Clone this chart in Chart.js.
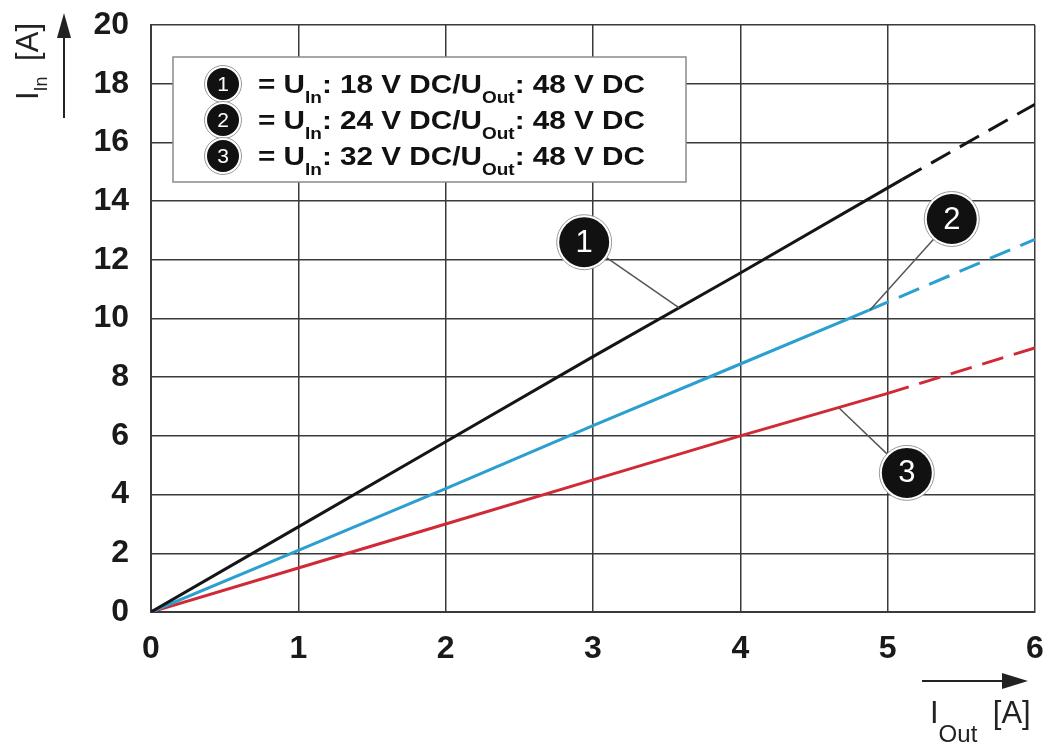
<!DOCTYPE html>
<html lang="de">
<head>
<meta charset="utf-8"/>
<title>I_In vs I_Out</title>
<script src="https://cdn.jsdelivr.net/npm/chart.js"></script>
<style>
  body { margin: 0; background: #fff; }
  canvas { display: block; }
</style>
</head>
<body>
<canvas id="chart" width="1048" height="742"></canvas>
<script>
// values (I_Out in A -> I_In in A)
const xBlack = [0, 1, 2, 3, 4, 5, 5.1, 6];
const yBlack = [0, 2.9, 5.8, 8.7, 11.55, 14.45, 14.74, 17.3];
const xBlue = [0, 1, 2, 3, 4, 4.87, 6];
const yBlue = [0, 2.1, 4.2, 6.35, 8.45, 10.28, 12.7];
const xRed = [0, 1, 2, 3, 4, 5, 6];
const yRed = [0, 1.5, 3.0, 4.5, 6.0, 7.45, 9.0];
// where the solid part ends and the dashed part starts
const solidEnd = [5.1, 4.87, 5.0];

const legendRows = [
  ['1', '18', '48'],
  ['2', '24', '48'],
  ['3', '32', '48']
];
// callouts: number, circle (x,y), leader end on curve (x,y)
const callouts = [
  ['1', 2.94, 12.6, 3.585, 10.36],
  ['2', 5.435, 13.39, 4.88, 10.29],
  ['3', 5.13, 4.74, 4.67, 6.95]
];

const FONT = '"Liberation Sans", Arial, sans-serif';
const GRID = '#3a3a3a';

function pts(xs, ys) {
  return xs.map((x, i) => ({ x: x, y: ys[i] }));
}

function dataset(xs, ys, color, cut) {
  return {
    data: pts(xs, ys),
    borderColor: color,
    borderWidth: 3,
    pointRadius: 0,
    tension: 0,
    segment: {
      borderDash: c => c.p0.parsed.x >= cut - 1e-6 ? [22, 11] : undefined
    }
  };
}

// draws text with subscripts, parts = [[text, isSub], ...]
function drawParts(ctx, parts, x, y, big, small, dy, measureOnly) {
  let w = 0;
  parts.forEach(p => {
    ctx.font = p[1] ? small : big;
    if (!measureOnly) ctx.fillText(p[0], x + w, p[1] ? y + dy : y);
    w += ctx.measureText(p[0]).width;
  });
  return w;
}

function badge(ctx, cx, cy, r, label, size) {
  ctx.beginPath();
  ctx.arc(cx, cy, r + 2.5, 0, Math.PI * 2);
  ctx.fillStyle = '#fff';
  ctx.fill();
  ctx.lineWidth = 1;
  ctx.strokeStyle = '#999';
  ctx.stroke();
  ctx.beginPath();
  ctx.arc(cx, cy, r, 0, Math.PI * 2);
  ctx.fillStyle = '#111';
  ctx.fill();
  ctx.fillStyle = '#fff';
  ctx.font = size + 'px ' + FONT;
  ctx.textAlign = 'center';
  ctx.textBaseline = 'middle';
  ctx.fillText(label, cx, cy + 1);
  ctx.textAlign = 'left';
  ctx.textBaseline = 'alphabetic';
}

const extras = {
  id: 'extras',
  afterDraw(chart) {
    const ctx = chart.ctx;
    const sx = chart.scales.x, sy = chart.scales.y;
    ctx.save();

    // legend box
    ctx.fillStyle = '#fff';
    ctx.fillRect(173, 57, 513, 125);
    ctx.strokeStyle = '#8a8a8a';
    ctx.lineWidth = 1.5;
    ctx.strokeRect(173, 57, 513, 125);

    const big = 'bold 25px ' + FONT;
    const small = 'bold 16px ' + FONT;
    legendRows.forEach((row, i) => {
      const base = 93 + i * 36;
      badge(ctx, 223, base - 9, 16, row[0], 21);
      const parts = [['= U', false], ['In', true], [': ' + row[1] + ' V DC/U', false],
        ['Out', true], [': ' + row[2] + ' V DC', false]];
      ctx.fillStyle = '#111';
      const w = drawParts(ctx, parts, 0, 0, big, small, 10, true);
      ctx.save();
      ctx.translate(258, base);
      ctx.scale(387 / w, 1);
      drawParts(ctx, parts, 0, 0, big, small, 10, false);
      ctx.restore();
    });

    // callouts
    callouts.forEach(c => {
      const cx = sx.getPixelForValue(c[1]), cy = sy.getPixelForValue(c[2]);
      const ex = sx.getPixelForValue(c[3]), ey = sy.getPixelForValue(c[4]);
      ctx.beginPath();
      ctx.moveTo(cx, cy);
      ctx.lineTo(ex, ey);
      ctx.strokeStyle = '#555';
      ctx.lineWidth = 1.5;
      ctx.stroke();
      badge(ctx, cx, cy, 25, c[0], 31);
    });

    // y axis title + arrow
    ctx.fillStyle = '#222';
    ctx.strokeStyle = '#222';
    ctx.save();
    ctx.translate(38, 100);
    ctx.rotate(-Math.PI / 2);
    drawParts(ctx, [['I', false], ['In', true], ['\u2002[A]', false]], 0, 0,
      '31px ' + FONT, '18px ' + FONT, 9, false);
    ctx.restore();
    ctx.lineWidth = 2;
    ctx.beginPath();
    ctx.moveTo(64, 118);
    ctx.lineTo(64, 30);
    ctx.stroke();
    ctx.beginPath();
    ctx.moveTo(64, 13);
    ctx.lineTo(57, 38);
    ctx.lineTo(71, 38);
    ctx.closePath();
    ctx.fill();

    // x axis title + arrow
    ctx.beginPath();
    ctx.moveTo(922, 681);
    ctx.lineTo(1010, 681);
    ctx.stroke();
    ctx.beginPath();
    ctx.moveTo(1028, 681);
    ctx.lineTo(1002, 673);
    ctx.lineTo(1002, 689);
    ctx.closePath();
    ctx.fill();
    drawParts(ctx, [['I', false], ['Out', true], ['\u2002[A]', false]], 930, 723,
      '31px ' + FONT, '24px ' + FONT, 19, false);

    ctx.restore();
  }
};

const tickFont = { family: FONT, size: 32, weight: 'bold' };

new Chart(document.getElementById('chart').getContext('2d'), {
  type: 'line',
  data: {
    datasets: [
      dataset(xBlack, yBlack, '#151515', solidEnd[0]),
      dataset(xBlue, yBlue, '#2a9fd0', solidEnd[1]),
      dataset(xRed, yRed, '#cf2a36', solidEnd[2])
    ]
  },
  options: {
    responsive: false,
    animation: false,
    devicePixelRatio: 1,
    layout: { padding: { top: 25, right: 13, left: 0, bottom: 0 } },
    plugins: {
      legend: { display: false },
      tooltip: { enabled: false }
    },
    scales: {
      x: {
        type: 'linear',
        min: 0,
        max: 6,
        ticks: { stepSize: 1, font: tickFont, color: '#1a1a1a', padding: 18, maxRotation: 0 },
        grid: { color: GRID, lineWidth: 1.5, drawTicks: false },
        border: { color: GRID, width: 2 },
        afterFit: s => { s.height = 130; s.paddingLeft = 0; s.paddingRight = 0; }
      },
      y: {
        min: 0,
        max: 20,
        ticks: { stepSize: 2, font: tickFont, color: '#1a1a1a', padding: 22 },
        grid: { color: GRID, lineWidth: 1.5, drawTicks: false },
        border: { color: GRID, width: 2 },
        afterFit: s => { s.width = 151; s.paddingTop = 0; s.paddingBottom = 0; }
      }
    }
  },
  plugins: [extras]
});
</script>
</body>
</html>
